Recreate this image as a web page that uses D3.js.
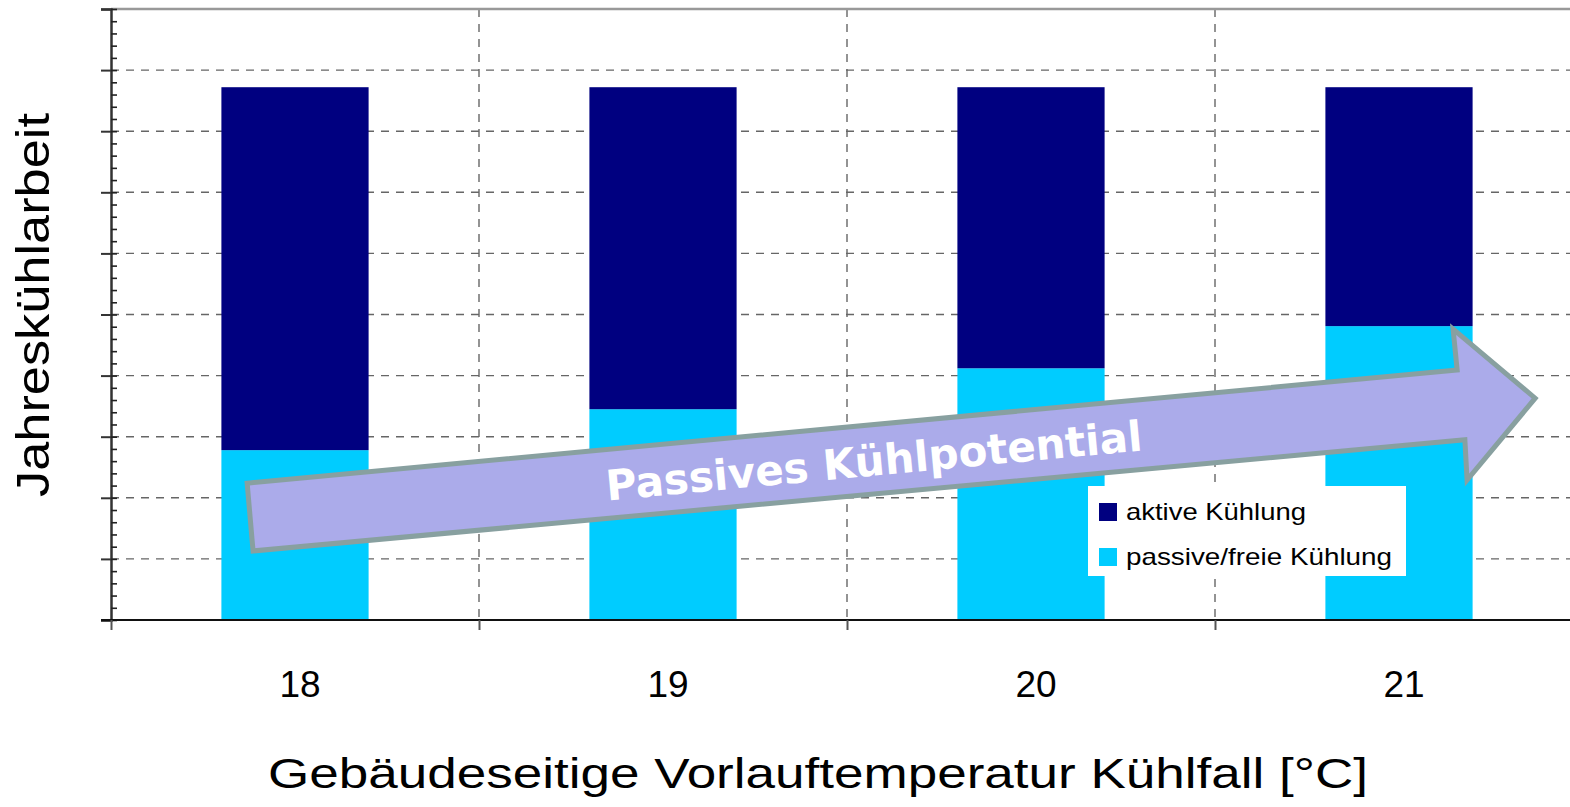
<!DOCTYPE html>
<html>
<head>
<meta charset="utf-8">
<script src="https://cdn.jsdelivr.net/npm/d3@7"></script>
<style>
  body { margin: 0; background: #fff; }
  svg { display: block; font-family: "Liberation Sans", Arial, sans-serif; }
  .grid line { stroke: #666; stroke-width: 1.4; stroke-dasharray: 8,7; }
</style>
</head>
<body>
<svg id="chart" width="1570" height="807"></svg>
<script>
// Daten
var categories = ["18", "19", "20", "21"];
var passiveValues = [27.8, 34.5, 41.2, 48.1];
var activeValues = [59.4, 52.7, 46.0, 39.1];
var seriesLabels = ["aktive Kühlung", "passive/freie Kühlung"];
var yTicks = d3.range(0, 101, 10);
var yMinorTicks = d3.range(0, 101, 2);

// Pfeil (Kategorie-Index, Wert)
var arrowIdx = [0.370, 3.658, 3.647, 3.870, 3.685, 3.679, 0.386];
var arrowVal = [22.4, 40.9, 47.6, 36.3, 22.9, 29.5, 11.3];
var arrowLabel = "Passives Kühlpotential";

var colors = ["#000080", "#00CCFF"];

var plotLeft = 111, plotTop = 9, plotBottom = 620, bandW = 368;

var svg = d3.select("#chart");

var x = d3.scaleBand()
    .domain(categories)
    .range([plotLeft, plotLeft + bandW * categories.length])
    .paddingInner(0.6)
    .paddingOuter(0.3);

var xc = d3.scaleLinear()
    .domain([0, categories.length])
    .range([plotLeft, plotLeft + bandW * categories.length]);

var y = d3.scaleLinear()
    .domain([0, 100])
    .range([plotBottom, plotTop]);

// Gitterlinien horizontal
svg.append("g")
    .attr("class", "grid")
    .selectAll("line")
    .data(yTicks.filter(function(d) { return d > 0 && d < 100; }))
    .enter().append("line")
    .attr("x1", plotLeft).attr("x2", 1570)
    .attr("y1", function(d) { return y(d); })
    .attr("y2", function(d) { return y(d); });

// Gitterlinien vertikal
svg.append("g")
    .attr("class", "grid")
    .selectAll("line")
    .data(d3.range(1, categories.length))
    .enter().append("line")
    .attr("x1", function(d) { return xc(d); })
    .attr("x2", function(d) { return xc(d); })
    .attr("y1", plotTop).attr("y2", plotBottom);

// obere Linie
svg.append("line")
    .attr("x1", plotLeft).attr("x2", 1570)
    .attr("y1", y(100)).attr("y2", y(100))
    .attr("stroke", "#999").attr("stroke-width", 2.5);

// Balken
var stackData = categories.map(function(c, i) {
    return { cat: c, passive: passiveValues[i], active: activeValues[i] };
});
var stack = d3.stack().keys(["passive", "active"])(stackData);

svg.append("g").selectAll("g")
    .data(stack)
    .enter().append("g")
    .attr("fill", function(d) { return d.key === "active" ? colors[0] : colors[1]; })
    .selectAll("rect")
    .data(function(d) { return d; })
    .enter().append("rect")
    .attr("x", function(d) { return x(d.data.cat); })
    .attr("width", x.bandwidth())
    .attr("y", function(d) { return y(d[1]); })
    .attr("height", function(d) { return y(d[0]) - y(d[1]); });

// Y-Achse
var yAxis = d3.axisLeft(y).tickValues(yTicks).tickSize(10).tickFormat("");
var gy = svg.append("g")
    .attr("transform", "translate(" + plotLeft + ",0)")
    .call(yAxis);
gy.select(".domain").attr("stroke", "#333").attr("stroke-width", 2.5);
gy.selectAll(".tick line").attr("stroke", "#333").attr("stroke-width", 2);

var yMinor = d3.axisRight(y).tickValues(yMinorTicks).tickSize(6).tickFormat("");
var gym = svg.append("g")
    .attr("transform", "translate(" + plotLeft + ",0)")
    .call(yMinor);
gym.select(".domain").remove();
gym.selectAll(".tick line").attr("stroke", "#222").attr("stroke-width", 1.6);

// X-Achse
svg.append("line")
    .attr("x1", plotLeft - 10).attr("x2", 1570)
    .attr("y1", plotBottom).attr("y2", plotBottom)
    .attr("stroke", "#111").attr("stroke-width", 2);

var xTickAxis = d3.axisBottom(xc).tickValues(d3.range(0, categories.length)).tickSize(10).tickFormat("");
var gxt = svg.append("g")
    .attr("transform", "translate(0," + plotBottom + ")")
    .call(xTickAxis);
gxt.select(".domain").remove();
gxt.selectAll(".tick line").attr("stroke", "#555").attr("stroke-width", 2);

var xAxis = d3.axisBottom(x).tickSize(0).tickPadding(0);
var gx = svg.append("g")
    .attr("transform", "translate(5," + plotBottom + ")")
    .call(xAxis);
gx.select(".domain").remove();
gx.selectAll("text")
    .attr("font-size", 37)
    .attr("font-family", "Liberation Sans, Arial, sans-serif")
    .attr("fill", "#000")
    .attr("dy", 77);

// Achsentitel
svg.append("text")
    .attr("x", 818).attr("y", 788)
    .attr("text-anchor", "middle")
    .attr("font-size", 43)
    .attr("textLength", 1100)
    .attr("lengthAdjust", "spacingAndGlyphs")
    .text("Gebäudeseitige Vorlauftemperatur Kühlfall [°C]");

svg.append("text")
    .attr("transform", "translate(49,305) rotate(-90)")
    .attr("text-anchor", "middle")
    .attr("font-size", 46)
    .attr("textLength", 384)
    .attr("lengthAdjust", "spacingAndGlyphs")
    .text("Jahreskühlarbeit");

// Legende
var legendWidths = [180, 266];
var legend = svg.append("g").attr("transform", "translate(1088,486)");
legend.append("rect")
    .attr("width", 318).attr("height", 90)
    .attr("fill", "#fff");
var li = legend.selectAll(".li")
    .data(seriesLabels)
    .enter().append("g")
    .attr("class", "li")
    .attr("transform", function(d, i) { return "translate(11," + (17 + i * 45) + ")"; });
li.append("rect")
    .attr("width", 18).attr("height", 18)
    .attr("fill", function(d, i) { return colors[i]; });
li.append("text")
    .attr("x", 27).attr("y", 17)
    .attr("font-size", 24)
    .attr("textLength", function(d, i) { return legendWidths[i]; })
    .attr("lengthAdjust", "spacingAndGlyphs")
    .text(function(d) { return d; });

// Pfeil
var arrowPts = arrowIdx.map(function(v, i) { return [xc(v), y(arrowVal[i])]; });
svg.append("path")
    .attr("d", d3.line()(arrowPts) + "Z")
    .attr("fill", "#ABABEA")
    .attr("stroke", "#88A0A0")
    .attr("stroke-width", 5)
    .attr("stroke-linejoin", "miter");

var p0 = arrowPts[0], p1 = arrowPts[1];
var angle = Math.atan2(p1[1] - p0[1], p1[0] - p0[0]) * 180 / Math.PI;
svg.append("text")
    .attr("transform", "translate(874,461) rotate(" + angle + ")")
    .attr("text-anchor", "middle")
    .attr("dominant-baseline", "central")
    .attr("font-family", "DejaVu Sans, Verdana, sans-serif")
    .attr("font-weight", "bold")
    .attr("font-size", 42)
    .attr("fill", "#fff")
    .text(arrowLabel);
</script>
</body>
</html>
